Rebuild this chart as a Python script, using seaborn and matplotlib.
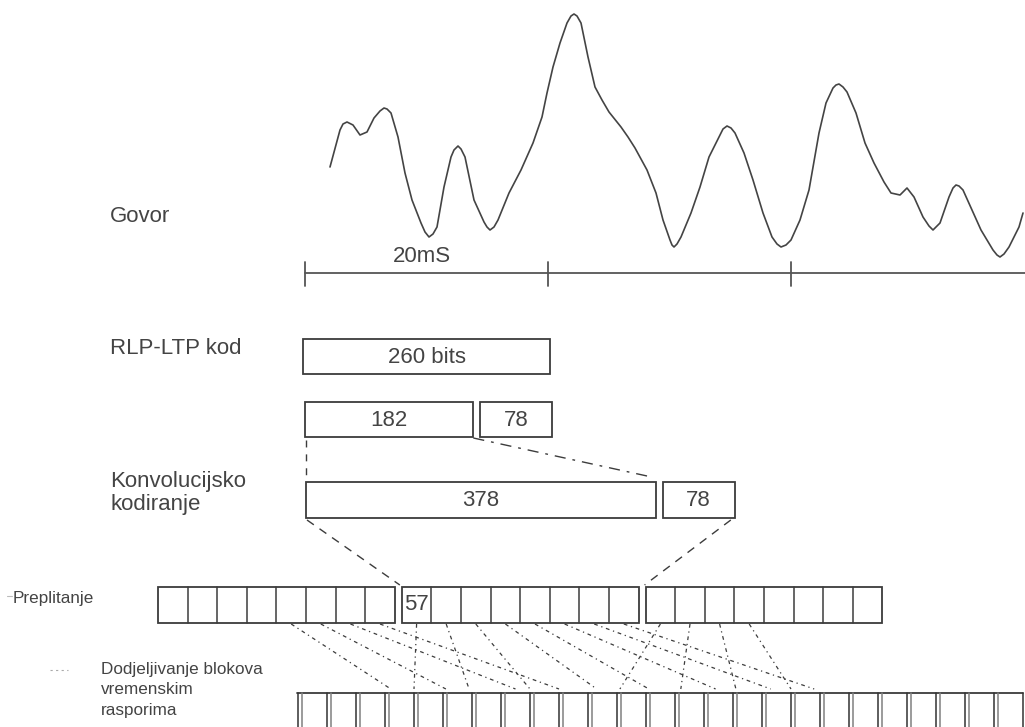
import numpy as np
import pandas as pd
import seaborn as sns
import matplotlib.pyplot as plt
from matplotlib.patches import Rectangle


# Speech waveform (pixel coordinates, y grows downward)
wave_x = [330, 340, 343, 347, 353, 360, 367, 374, 380, 384, 387, 391, 398, 405, 412,
          421, 425, 429, 433, 437, 444, 451, 454, 458, 461, 465, 474, 484, 487, 490,
          494, 498, 509, 521, 533, 542, 547, 553, 560, 567, 571, 574, 577, 581, 588,
          595, 602, 609, 621, 628, 635, 647, 656, 663, 670, 672, 674, 677, 681, 691,
          700, 709, 719, 723, 727, 731, 735, 744, 753, 763, 772, 777, 781, 786, 791,
          800, 809, 819, 826, 833, 836, 839, 843, 847, 856, 865, 874, 884, 891, 900,
          907, 914, 923, 929, 933, 940, 949, 953, 956, 959, 963, 972, 981, 993, 997,
          1000, 1004, 1009, 1019, 1023]
wave_y = [167, 130, 124, 122, 125, 135, 132, 118, 111, 108, 109, 113, 137, 173, 200,
          223, 232, 237, 234, 227, 187, 157, 150, 146, 149, 157, 200, 222, 227, 230,
          227, 220, 193, 170, 143, 117, 93, 67, 43, 23, 16, 14, 16, 23, 57,
          87, 100, 112, 127, 137, 148, 170, 193, 220, 240, 245, 247, 244, 237, 213,
          187, 157, 137, 129, 126, 128, 133, 153, 180, 213, 237, 244, 247, 245, 240,
          220, 190, 133, 103, 88, 85, 84, 87, 92, 113, 143, 163, 182, 193, 195,
          188, 197, 217, 226, 230, 223, 197, 188, 185, 186, 190, 210, 230, 250, 255,
          257, 254, 247, 227, 213]

# Text
row_labels = ['Govor', 'RLP-LTP kod', 'Konvolucijsko\nkodiranje']
frame_label = '20mS'
interleave_label = 'Preplitanje'
burst_label = 'Dodjeljivanje blokova\nvremenskim\nrasporima'

# Bit counts per stage
frame_bits = 260
class_bits = [182, 78]
coded_bits = [378, 78]
block_bits = 57
n_frames = 3
n_blocks = 3
cells_per_block = 8
n_slots = 25

# Interleaving links: Preplitanje cell -> position along the burst row (in slots)
link_cells = [4, 5, 6, 7, 8, 9, 10, 11, 12, 13, 14, 15, 16, 17, 18, 19]
link_slots = [3.2, 5.1, 7.5, 9.0, 4.0, 5.9, 8.0, 10.3, 12.1, 14.4, 16.3, 17.8,
              11.1, 13.2, 15.1, 17.0]


# Layout (pixels)
ink = '#3c3c3c'
txt = '#444444'
px_bit = 0.925
x0 = 305
axis_y = 273
frame_px = 243
row1_y, row2_y, row3_y, box_h = 339, 402, 482, 35
gap = 6.5
blk_x0, blk_y, blk_h, cell_w, blk_gap = 158, 587, 36, 29.6, 7
slot_x0, slot_y, slot_w = 298, 693, 29.0
big, small = 16, 12.3

sns.set_style('white')
plt.rcParams['font.family'] = ['Liberation Sans', 'DejaVu Sans']

fig = plt.figure(figsize=(10.25, 7.27), dpi=100)
ax = fig.add_axes([0, 0, 1, 1])

# waveform
sns.lineplot(x=wave_x, y=wave_y, ax=ax, color='#444444', lw=1.2, sort=False, estimator=None,
             solid_joinstyle='round')

# time axis with 20 ms frames
ax.plot([x0, 1025], [axis_y, axis_y], color='#555555', lw=1.3)
for k in range(n_frames):
  ax.plot([x0 + k*frame_px]*2, [axis_y - 11, axis_y + 13], color='#555555', lw=1.3)
ax.text(x0 + 0.48*frame_px, axis_y - 16, frame_label, fontsize=big, color=txt, ha='center', va='center')

# row labels
ax.text(110, 217, row_labels[0], fontsize=big, color=txt, va='center')
ax.text(110, 349, row_labels[1], fontsize=big, color=txt, va='center')
ax.text(110, 493, row_labels[2], fontsize=big, color=txt, va='center', linespacing=1.12)


def box(x, y, w, h, label=None, **kw):
  ax.add_patch(Rectangle((x, y), w, h, fill=False, ec=ink, lw=1.3))
  if label is not None:
    ax.text(x + w/2, y + h/2 + 1, label, fontsize=big, color=txt, ha='center', va='center', **kw)


# 260 bits frame
box(x0 - 2, row1_y, frame_bits*px_bit + gap, box_h, f'{frame_bits} bits')

# class I / class II
cx = [x0, x0 + class_bits[0]*px_bit + gap]
for x, b in zip(cx, class_bits):
  box(x, row2_y, b*px_bit, box_h, str(b))

# convolutional coding
kx = [x0 + 1, x0 + 1 + coded_bits[0]*px_bit + 7]
for x, b in zip(kx, coded_bits):
  box(x, row3_y, b*px_bit, box_h + 1, str(b))

# interleaving blocks
blk_w = cells_per_block*cell_w
blk_x = [blk_x0 + i*(blk_w + blk_gap) for i in range(n_blocks)]
for x in blk_x:
  ax.add_patch(Rectangle((x, blk_y), blk_w, blk_h, fill=False, ec=ink, lw=1.3))
  for c in range(1, cells_per_block):
    ax.plot([x + c*cell_w]*2, [blk_y, blk_y + blk_h], color=ink, lw=1.1)
ax.text(blk_x[1] + 2, blk_y + blk_h/2, str(block_bits), fontsize=big, color=txt, ha='left', va='center')
ax.text(13, 598, interleave_label, fontsize=small, color=txt, va='center')
ax.plot([7, 12], [596, 596], color='#bbbbbb', lw=0.8)

# connectors between coding stages
c1_end = cx[0] + class_bits[0]*px_bit
k1_end = kx[0] + coded_bits[0]*px_bit
k2_end = kx[1] + coded_bits[1]*px_bit
ax.plot([x0 + 1, x0 + 1], [row2_y + box_h + 3, row3_y - 4], color=ink, lw=1.0, ls=(0, (5, 5)))
ax.plot([c1_end, k1_end - 4], [row2_y + box_h + 1, row3_y - 5], color=ink, lw=1.0, ls=(0, (8, 5, 2, 5)))
ax.plot([kx[0] + 1, blk_x[1] - 2], [row3_y + box_h + 3, blk_y - 2], color=ink, lw=1.0, ls=(0, (6, 5)))
ax.plot([k2_end - 4, blk_x[2] - 1], [row3_y + box_h + 3, blk_y - 2], color=ink, lw=1.0, ls=(0, (6, 5)))

# burst (time slot) row
ax.plot([slot_x0 - 1, slot_x0 + n_slots*slot_w], [slot_y, slot_y], color=ink, lw=1.3)
for k in range(n_slots):
  sx = slot_x0 + k*slot_w
  ax.plot([sx, sx], [slot_y, 730], color='#333333', lw=1.1)
  ax.plot([sx + 4, sx + 4], [slot_y, 730], color='#808080', lw=1.1)
ax.plot([slot_x0 + n_slots*slot_w]*2, [slot_y, 730], color='#333333', lw=1.1)

# interleaving links
for c, s in zip(link_cells, link_slots):
  b, i = divmod(c, cells_per_block)
  sx = blk_x[b] + (i + 0.5)*cell_w
  ax.plot([sx, slot_x0 + s*slot_w], [blk_y + blk_h + 1, slot_y - 4],
          color=ink, lw=0.9, ls=(0, (3, 3, 1, 3)))

ax.text(101, 690, burst_label, fontsize=small, color=txt, va='center', linespacing=1.42)
ax.plot([50, 68], [670, 670], color='#aaaaaa', lw=0.8, ls=(0, (2, 3)))

ax.set_xlim(0, 1025)
ax.set_ylim(727, 0)
ax.axis('off')

fig.savefig('out.png', dpi=100)
